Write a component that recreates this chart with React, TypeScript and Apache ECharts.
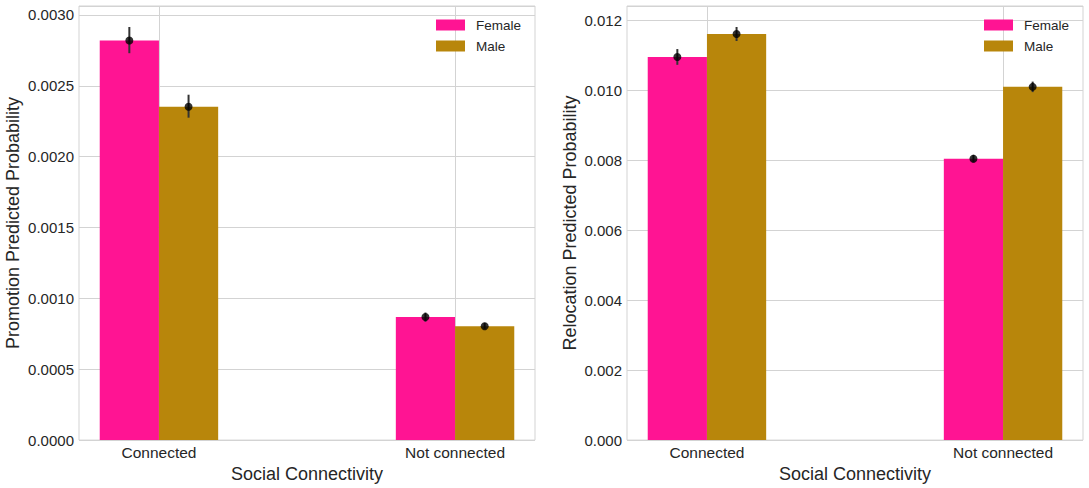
import React, { useEffect, useRef } from "react";
import * as echarts from "echarts";

const categories = ["Connected", "Not connected"];
const legendNames = ["Female", "Male"];

const promoFemale = [0.00282, 0.000868];
const promoMale = [0.002352, 0.000803];
const promoFemaleLow = [0.00273, 0.000835];
const promoFemaleHigh = [0.002915, 0.0009];
const promoMaleLow = [0.002275, 0.000785];
const promoMaleHigh = [0.002437, 0.000828];

const relocFemale = [0.010945, 0.008038];
const relocMale = [0.0116, 0.01009];
const relocFemaleLow = [0.01072, 0.00793];
const relocFemaleHigh = [0.01117, 0.00815];
const relocMaleLow = [0.0114, 0.00994];
const relocMaleHigh = [0.0118, 0.01024];

const FEMALE = "#FF1493";
const MALE = "#B8860B";
const GRID = "#d3d3d3";
const TXT = "#262626";
const FONT = "'Liberation Sans', Arial, sans-serif";
const OFFSET = 0.1;
const HALF = 0.1;

function barRender(color: string) {
  return (params: any, api: any) => {
    const x = api.value(0);
    const v = api.value(1);
    const p0 = api.coord([x - HALF, 0]);
    const p1 = api.coord([x + HALF, v]);
    return {
      type: "rect",
      shape: { x: p0[0], y: p1[1], width: p1[0] - p0[0], height: p0[1] - p1[1] },
      style: { fill: color },
    };
  };
}

function errRender(params: any, api: any) {
  const x = api.value(0);
  const a = api.coord([x, api.value(1)]);
  const b = api.coord([x, api.value(2)]);
  return {
    type: "line",
    shape: { x1: a[0], y1: a[1], x2: b[0], y2: b[1] },
    style: { stroke: "#333333", lineWidth: 2 },
  };
}

function panelSeries(
  idx: number,
  fem: number[],
  mal: number[],
  fLo: number[],
  fHi: number[],
  mLo: number[],
  mHi: number[]
) {
  const fx = fem.map((_, i) => i - OFFSET);
  const mx = mal.map((_, i) => i + OFFSET);
  return [
    {
      name: "Female",
      type: "custom",
      xAxisIndex: idx,
      yAxisIndex: idx,
      itemStyle: { color: FEMALE },
      renderItem: barRender(FEMALE),
      data: fem.map((v, i) => [fx[i], v]),
      z: 2,
    },
    {
      name: "Male",
      type: "custom",
      xAxisIndex: idx,
      yAxisIndex: idx,
      itemStyle: { color: MALE },
      renderItem: barRender(MALE),
      data: mal.map((v, i) => [mx[i], v]),
      z: 2,
    },
    {
      name: "errF" + idx,
      type: "custom",
      xAxisIndex: idx,
      yAxisIndex: idx,
      renderItem: errRender,
      data: fem.map((_, i) => [fx[i], fLo[i], fHi[i]]),
      z: 3,
    },
    {
      name: "errM" + idx,
      type: "custom",
      xAxisIndex: idx,
      yAxisIndex: idx,
      renderItem: errRender,
      data: mal.map((_, i) => [mx[i], mLo[i], mHi[i]]),
      z: 3,
    },
    {
      name: "ptF" + idx,
      type: "scatter",
      xAxisIndex: idx,
      yAxisIndex: idx,
      symbolSize: 8,
      itemStyle: { color: "#000000" },
      data: fem.map((v, i) => [fx[i], v]),
      z: 4,
    },
    {
      name: "ptM" + idx,
      type: "scatter",
      xAxisIndex: idx,
      yAxisIndex: idx,
      symbolSize: 8,
      itemStyle: { color: "#000000" },
      data: mal.map((v, i) => [mx[i], v]),
      z: 4,
    },
  ];
}

function xAxis(idx: number) {
  return {
    type: "value",
    gridIndex: idx,
    min: -0.27,
    max: 1.27,
    name: "Social Connectivity",
    nameLocation: "middle",
    nameGap: 20,
    nameTextStyle: { fontSize: 18, color: TXT, fontFamily: FONT },
    axisLine: { show: false },
    axisTick: { show: false, customValues: [0, 1] },
    axisLabel: {
      customValues: [0, 1],
      formatter: (v: number) => categories[Math.round(v)] ?? "",
      fontSize: 15.5,
      color: TXT,
      fontFamily: FONT,
      margin: 4,
    },
    splitLine: { show: true, lineStyle: { color: GRID, width: 1 } },
  };
}

function yAxis(idx: number, max: number, interval: number, decimals: number, name: string, gap: number) {
  return {
    type: "value",
    gridIndex: idx,
    min: 0,
    max,
    interval,
    name,
    nameLocation: "middle",
    nameGap: gap,
    nameTextStyle: { fontSize: 18, color: TXT, fontFamily: FONT },
    axisLine: { show: false },
    axisTick: { show: false },
    axisLabel: {
      showMaxLabel: false,
      formatter: (v: number) => v.toFixed(decimals),
      fontSize: 15,
      color: TXT,
      fontFamily: FONT,
      margin: 5,
    },
    splitLine: { show: true, lineStyle: { color: GRID, width: 1 } },
  };
}

function legend(left: number) {
  return {
    data: legendNames,
    orient: "vertical",
    left,
    top: 17,
    padding: 0,
    icon: "rect",
    itemWidth: 29,
    itemHeight: 11,
    itemGap: 5,
    textStyle: { fontSize: 13.5, color: TXT, fontFamily: FONT, lineHeight: 16, padding: [0, 0, 0, 6] },
    selectedMode: false,
  };
}

export default function App() {
  const ref = useRef<HTMLDivElement>(null);
  useEffect(() => {
    if (!ref.current) return;
    const chart = echarts.init(ref.current, undefined, { renderer: "svg" });
    chart.setOption({
      animation: false,
      backgroundColor: "#ffffff",
      textStyle: { fontFamily: FONT },
      grid: [
        { left: 79, top: 6, width: 456, height: 435, show: true, borderColor: GRID, borderWidth: 1, backgroundColor: "transparent" },
        { left: 627, top: 6, width: 456, height: 435, show: true, borderColor: GRID, borderWidth: 1, backgroundColor: "transparent" },
      ],
      legend: [legend(436), legend(984)],
      xAxis: [xAxis(0), xAxis(1)],
      yAxis: [
        yAxis(0, 0.003063, 0.0005, 4, "Promotion Predicted Probability", 57),
        yAxis(1, 0.0124, 0.002, 3, "Relocation Predicted Probability", 48),
      ],
      series: [
        ...panelSeries(0, promoFemale, promoMale, promoFemaleLow, promoFemaleHigh, promoMaleLow, promoMaleHigh),
        ...panelSeries(1, relocFemale, relocMale, relocFemaleLow, relocFemaleHigh, relocMaleLow, relocMaleHigh),
      ],
    });
    return () => chart.dispose();
  }, []);
  return (
    <div
      ref={ref}
      style={{ position: "fixed", left: 0, top: 0, width: 1089, height: 488, background: "#fff" }}
    />
  );
}
